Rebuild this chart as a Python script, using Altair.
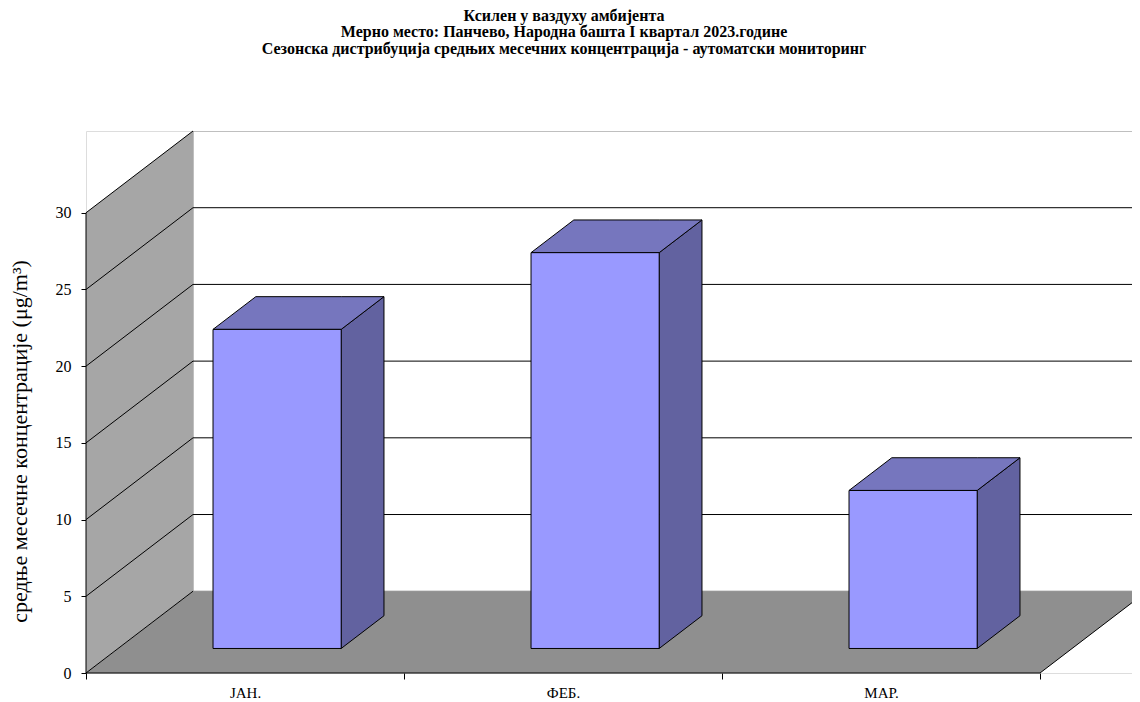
import altair as alt
import pandas as pd

# ---------------- data ----------------
months = ["ЈАН.", "ФЕБ.", "МАР."]
values = [20.8, 25.8, 10.3]
y_ticks = [0, 5, 10, 15, 20, 25, 30]
title_lines = [
    "Ксилен у ваздуху амбијента",
    "Мерно место: Панчево, Народна башта I квартал 2023.године",
    "Сезонска дистрибуција средњих месечних концентрација - аутоматски мониторинг",
]
y_title = "средње месечне концентрације (μg/m³)"

# ---------------- projection / style constants ----------------
W, H = 1046, 542
PX_PER_CAT = 318.0
XMAX = W / PX_PER_CAT
YTOP = 30
DX = 0.3365          # depth shift in category units
DY = 5.33            # depth shift in value units
BAR_W = 0.403
F0, F1 = 0.30, 0.70  # bar depth span (fraction of full depth)
n = len(months)
FONT = "Liberation Serif"

FRONT = "#9999ff"
TOP = "#7676be"
SIDE = "#6262a0"
WALL = "#a6a6a6"
FLOOR = "#8f8f8f"

xs = alt.Scale(domain=[0, XMAX], nice=False, zero=False)
ys = alt.Scale(domain=[0, YTOP + DY], nice=False, zero=False)

# x axis: ticks at category borders, labels at centres
x_vals = [0] + [v for i in range(n) for v in (i + 0.5, i + 1)]
label_expr = " : ".join(
    f"datum.value == {i + 0.5} ? '{m}'" for i, m in enumerate(months)) + " : ''"

x_axis = alt.Axis(
    values=x_vals, domain=False, grid=False, ticks=True, tickSize=6, tickColor="black",
    tickOpacity={"condition": {"test": "datum.value % 1 == 0", "value": 1}, "value": 0},
    labelExpr=label_expr, labelFont=FONT, labelFontSize=15, labelColor="black",
    labelPadding=6, labelFlush=False, labelOverlap=False, title=None)
y_axis = alt.Axis(
    values=y_ticks, domain=False, grid=False, tickSize=5, tickColor="black",
    labelFont=FONT, labelFontSize=16, labelColor="black", labelPadding=10,
    title=y_title, titleFont=FONT, titleFontSize=22, titleFontWeight="normal",
    titleColor="black", titleAngle=270, titleBaseline="middle", titleAlign="center",
    titleX=-67, titleY=310)


def X(f):
    return alt.X(f, type="quantitative", scale=xs, axis=x_axis)


def Y(f):
    return alt.Y(f, type="quantitative", scale=ys, axis=y_axis)


# ---------------- walls ----------------
back = pd.DataFrame({"x": [DX], "x2": [DX + n], "y": [DY], "y2": [YTOP + DY]})
back_l = alt.Chart(back).mark_rect(fill="white", stroke="#808080", strokeWidth=1, clip=True).encode(
    x=X("x"), x2="x2", y=Y("y"), y2="y2")

grid = pd.DataFrame({"k": y_ticks[1:-1]})
grid["y"] = grid["k"] + DY
grid["x"] = DX
grid["x2"] = DX + n
grid_l = alt.Chart(grid).mark_rule(color="black", strokeWidth=1, clip=True).encode(
    x=X("x"), x2="x2", y=Y("y"))

left = pd.DataFrame({"x": [0, DX], "y": [0, DY], "y2": [YTOP, YTOP + DY]})
left_l = alt.Chart(left).mark_area(fill=WALL, orient="vertical").encode(
    x=X("x"), y=Y("y"), y2="y2")

floor = pd.DataFrame({"x": [0, DX, n, n + DX], "y": [0, 0, 0, DY], "y2": [0, DY, DY, DY]})
floor_l = alt.Chart(floor).mark_area(fill=FLOOR, orient="vertical", clip=True).encode(
    x=X("x"), y=Y("y"), y2="y2")

diag = pd.DataFrame({"k": y_ticks})
diag["x"] = 0.0
diag["x2"] = DX
diag["y"] = diag["k"]
diag["y2"] = diag["k"] + DY
diag_l = alt.Chart(diag).mark_rule(color="black", strokeWidth=1).encode(
    x=X("x"), x2="x2", y=Y("y"), y2="y2")

edge = pd.DataFrame({"x": [n], "x2": [n + DX], "y": [0], "y2": [DY]})
edge_l = alt.Chart(edge).mark_rule(color="black", strokeWidth=1, clip=True).encode(
    x=X("x"), x2="x2", y=Y("y"), y2="y2")

# ---------------- bars ----------------
front_rows, side_rows, top_rows = [], [], []
ddx = (F1 - F0) * DX
ddy = (F1 - F0) * DY
for i, (m, v) in enumerate(zip(months, values)):
    c = i + 0.5
    xl = c - BAR_W / 2 + F0 * DX
    xr = c + BAR_W / 2 + F0 * DX
    yb = F0 * DY
    vt = v + F0 * DY
    front_rows.append({"m": m, "x": xl, "x2": xr, "y": yb, "y2": vt})
    side_rows += [
        {"m": m, "x": xr, "y": yb, "y2": vt},
        {"m": m, "x": xr + ddx, "y": yb + ddy, "y2": vt + ddy},
    ]
    top_rows += [
        {"m": m, "x": xl, "y": vt, "y2": vt},
        {"m": m, "x": xl + ddx, "y": vt, "y2": vt + ddy},
        {"m": m, "x": xr, "y": vt, "y2": vt + ddy},
        {"m": m, "x": xr + ddx, "y": vt + ddy, "y2": vt + ddy},
    ]

side_l = alt.Chart(pd.DataFrame(side_rows)).mark_area(
    fill=SIDE, stroke="black", strokeWidth=1, orient="vertical", strokeJoin="miter").encode(
    x=X("x"), y=Y("y"), y2="y2", detail="m:N")
top_l = alt.Chart(pd.DataFrame(top_rows)).mark_area(
    fill=TOP, stroke="black", strokeWidth=1, orient="vertical", strokeJoin="miter").encode(
    x=X("x"), y=Y("y"), y2="y2", detail="m:N")
front_l = alt.Chart(pd.DataFrame(front_rows)).mark_rect(
    fill=FRONT, stroke="black", strokeWidth=1).encode(
    x=X("x"), x2="x2", y=Y("y"), y2="y2")

# axis lines on the front plane
xline = pd.DataFrame({"x": [0], "x2": [n], "y": [0]})
xline_l = alt.Chart(xline).mark_rule(color="black", strokeWidth=1).encode(
    x=X("x"), x2="x2", y=Y("y"))
yline = pd.DataFrame({"x": [0], "y": [0], "y2": [YTOP]})
yline_l = alt.Chart(yline).mark_rule(color="black", strokeWidth=1).encode(
    x=X("x"), y=Y("y"), y2="y2")

chart = alt.layer(
    back_l, grid_l, left_l, floor_l, diag_l, edge_l, side_l, top_l, front_l, xline_l, yline_l
).properties(
    width=W, height=H,
    autosize=alt.AutoSizeParams(type="none"),
    padding={"left": 78, "top": 123, "right": 0, "bottom": 29},
    title=alt.Title(
        text=title_lines, font=FONT, fontSize=16, fontWeight="bold", color="black",
        anchor="middle", dx=-45, offset=74, lineHeight=16.5),
).configure_view(stroke=None).configure(background="white")

chart.save("out.html", embed_options={"renderer": "svg", "actions": False})
